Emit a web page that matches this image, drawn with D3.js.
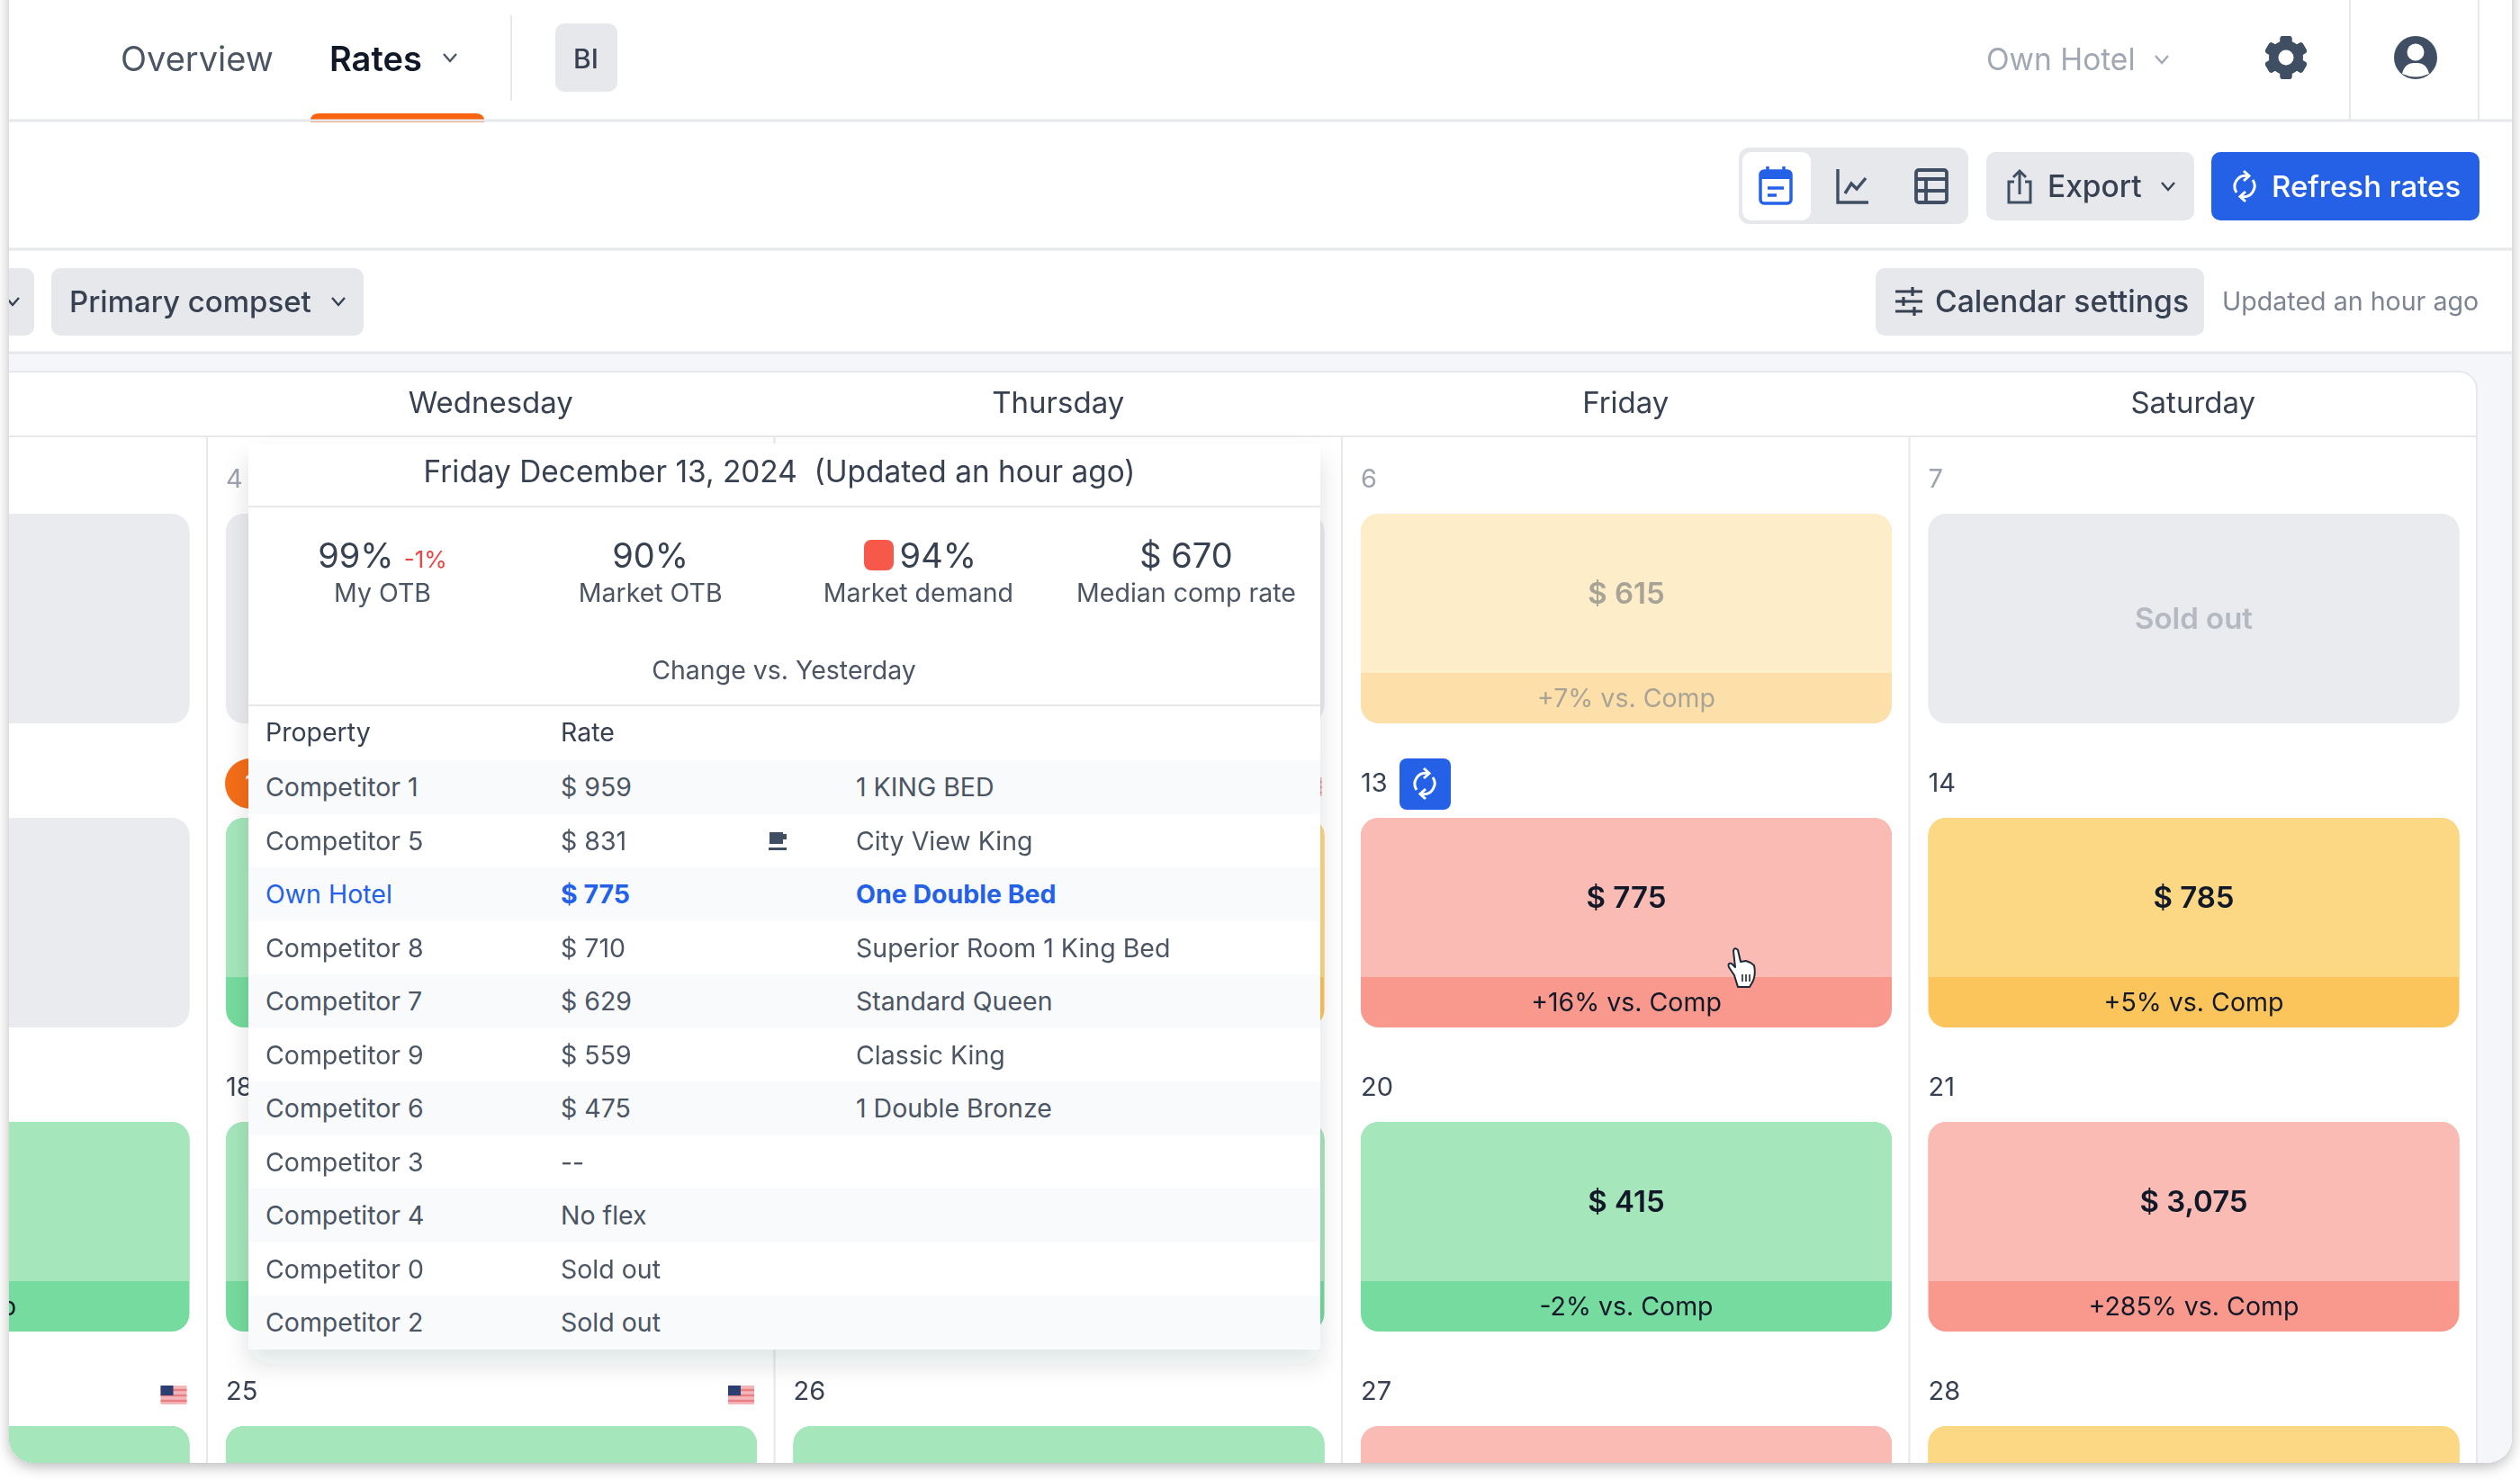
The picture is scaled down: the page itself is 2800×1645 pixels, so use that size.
<!DOCTYPE html>
<html>
<head>
<meta charset="utf-8">
<script src="https://cdn.jsdelivr.net/npm/d3@7"></script>
<style>
  html, body { margin: 0; padding: 0; background: #fff; }
  svg { display: block; filter: blur(0.6px); }
  text { font-family: Inter, "Noto Sans", sans-serif; }
</style>
</head>
<body>
<svg id="chart"></svg>
<script>
// calendar data
const weekdays = ['Tuesday', 'Wednesday', 'Thursday', 'Friday', 'Saturday'];
const weeks = [0, 1, 2, 3];
const dates = [
  [3, 4, 5, 6, 7],
  [10, 11, 12, 13, 14],
  [17, 18, 19, 20, 21],
  [24, 25, 26, 27, 28]
];
const statuses = [
  ['sold', 'sold', 'sold', 'faded', 'sold'],
  ['sold', 'green', 'yellow', 'red', 'yellow'],
  ['green', 'green', 'green', 'green', 'red'],
  ['green', 'green', 'green', 'red', 'yellow']
];
const rates = [
  [null, null, null, '$ 615', 'Sold out'],
  [null, null, null, '$ 775', '$ 785'],
  [null, null, null, '$ 415', '$ 3,075'],
  [null, null, null, null, null]
];
const compares = [
  [null, null, null, '+7% vs. Comp', null],
  [null, null, null, '+16% vs. Comp', '+5% vs. Comp'],
  ['-15% vs. Comp', null, null, '-2% vs. Comp', '+285% vs. Comp'],
  [null, null, null, null, null]
];
const flagDates = [12, 24, 25];

// popover data
const statLabels = ['My OTB', 'Market OTB', 'Market demand', 'Median comp rate'];
const statValues = ['99%', '90%', '94%', '$ 670'];
const properties = ['Competitor 1', 'Competitor 5', 'Own Hotel', 'Competitor 8', 'Competitor 7',
  'Competitor 9', 'Competitor 6', 'Competitor 3', 'Competitor 4', 'Competitor 0', 'Competitor 2'];
const propertyRates = ['$ 959', '$ 831', '$ 775', '$ 710', '$ 629', '$ 559', '$ 475', '--', 'No flex', 'Sold out', 'Sold out'];
const roomTypes = ['1 KING BED', 'City View King', 'One Double Bed', 'Superior Room 1 King Bed', 'Standard Queen',
  'Classic King', '1 Double Bronze', '', '', '', ''];

const palette = {
  green: { main: '#a6e6bb', strip: '#75db9e', text: '#111827' },
  red: { main: '#fbbbb5', strip: '#f9998d', text: '#111827' },
  yellow: { main: '#fcd885', strip: '#fcc55c', text: '#111827' },
  faded: { main: '#fdedc8', strip: '#fde0a9', text: '#a8a396' },
  sold: { main: '#e9ebef', strip: '#e9ebef', text: '#b3b8c1' }
};
const ink = '#111827', slate = '#4b5563', iconInk = '#3f4e62', chip = '#e6e8ec', line = '#e6e8ec', blue = '#2461e6';

const svg = d3.select('#chart').attr('width', 2800).attr('height', 1645);
const defs = svg.append('defs');

const appShadow = defs.append('filter').attr('id', 'appShadow')
  .attr('x', -0.02).attr('y', -0.02).attr('width', 1.04).attr('height', 1.04);
appShadow.append('feDropShadow').attr('dx', 0).attr('dy', 4).attr('stdDeviation', 8)
  .attr('flood-color', '#000').attr('flood-opacity', 0.28);
const popShadow = defs.append('filter').attr('id', 'popShadow')
  .attr('x', -0.05).attr('y', -0.05).attr('width', 1.1).attr('height', 1.12);
popShadow.append('feDropShadow').attr('dx', 0).attr('dy', 16).attr('stdDeviation', 14)
  .attr('flood-color', '#1f2937').attr('flood-opacity', 0.13);

defs.append('clipPath').attr('id', 'appClip')
  .append('rect').attr('x', 10).attr('y', -40).attr('width', 2781).attr('height', 1666).attr('rx', 28);

svg.append('rect').attr('x', 10).attr('y', -40).attr('width', 2781).attr('height', 1666).attr('rx', 28)
  .attr('fill', '#fff').attr('filter', 'url(#appShadow)');

const app = svg.append('g').attr('clip-path', 'url(#appClip)');

function label(g, x, y, text, o = {}) {
  return g.append('text')
    .attr('x', x).attr('y', y).attr('dy', '0.36em')
    .attr('text-anchor', o.anchor || 'start')
    .attr('font-size', o.size || 34)
    .attr('font-weight', o.weight || 400)
    .attr('fill', o.fill || ink)
    .text(text);
}
function chevron(g, x, y, color) {
  g.append('path').attr('d', `M${x - 7},${y - 4} L${x},${y + 4} L${x + 7},${y - 4}`)
    .attr('fill', 'none').attr('stroke', color).attr('stroke-width', 2.4);
}
function chipRect(g, x0, x1, y0, y1, fill = chip, rx = 10) {
  return g.append('rect').attr('x', x0).attr('y', y0).attr('width', x1 - x0).attr('height', y1 - y0)
    .attr('rx', rx).attr('fill', fill);
}
function refreshIcon(g, cx, cy, color) {
  const icon = g.append('g').attr('transform', `translate(${cx},${cy})`)
    .attr('fill', 'none').attr('stroke', color).attr('stroke-width', 3);
  icon.append('path').attr('d', 'M-9,7 A12,12 0 0 1 3,-11.5 M9,-7 A12,12 0 0 1 -3,11.5');
  icon.append('path').attr('d', 'M-1,-17 L5,-11.5 L-1,-6 M1,6 L-5,11.5 L1,17');
}

// ---- top nav ----
const nav = app.append('g');
label(nav, 134, 65, 'Overview', { size: 38, fill: slate });
label(nav, 366, 65, 'Rates', { size: 38, weight: 600 });
chevron(nav, 500, 64, slate);
nav.append('path').attr('d', 'M345,136 V134 Q345,126 355,126 H528 Q538,126 538,134 V136 Z').attr('fill', '#f9620f');
nav.append('line').attr('x1', 568).attr('x2', 568).attr('y1', 17).attr('y2', 112).attr('stroke', line).attr('stroke-width', 2);
chipRect(nav, 617, 686, 26, 102);
label(nav, 651, 65, 'BI', { size: 30, weight: 500, anchor: 'middle', fill: '#374151' });
label(nav, 2207, 66, 'Own Hotel', { size: 33.5, fill: '#a2a8b3' });
chevron(nav, 2402, 66, '#a2a8b3');
[2611, 2754].forEach(x => nav.append('line').attr('x1', x).attr('x2', x).attr('y1', 0).attr('y2', 134).attr('stroke', line).attr('stroke-width', 2));

// gear
const gear = nav.append('g').attr('transform', 'translate(2540,64)');
d3.range(6).forEach(i => gear.append('rect').attr('x', -6.5).attr('y', -24).attr('width', 13).attr('height', 48)
  .attr('rx', 3).attr('fill', iconInk).attr('transform', `rotate(${i * 60})`));
gear.append('circle').attr('r', 14).attr('fill', iconInk).attr('stroke', iconInk).attr('stroke-width', 10);
gear.append('circle').attr('r', 8.5).attr('fill', '#fff');
// user
const user = nav.append('g').attr('transform', 'translate(2684,64)');
user.append('circle').attr('r', 24).attr('fill', iconInk);
user.append('circle').attr('cy', -6).attr('r', 9.5).attr('fill', '#fff');
user.append('path').attr('d', 'M-15,18 Q-12,5 0,6 Q12,5 15,18 Q0,25 -15,18 Z').attr('fill', '#fff');

// dividers for the header bands
[134, 277].forEach(y => app.append('line').attr('x1', 0).attr('x2', 2800).attr('y1', y).attr('y2', y)
  .attr('stroke', line).attr('stroke-width', 3));

// ---- toolbar ----
const tools = app.append('g');
chipRect(tools, 1932, 2187, 164, 249, '#e6e8ec', 12);
chipRect(tools, 1936, 2012, 169, 245, '#fff', 10);
const cal = tools.append('g').attr('transform', 'translate(1973,207)');
cal.append('rect').attr('x', -17).attr('y', -17).attr('width', 34).attr('height', 36).attr('rx', 4)
  .attr('fill', '#fff').attr('stroke', blue).attr('stroke-width', 3.5);
cal.append('rect').attr('x', -17).attr('y', -17).attr('width', 34).attr('height', 9).attr('fill', blue);
cal.append('path').attr('d', 'M-9,-22 V-15 M9,-22 V-15 M-9,2 H9 M-9,10 H1').attr('stroke', blue).attr('stroke-width', 3.5);
const trend = tools.append('g').attr('transform', 'translate(2059,207)').attr('fill', 'none').attr('stroke', iconInk).attr('stroke-width', 3.4);
trend.append('path').attr('d', 'M-17,-19 V18 H17 M-9,8 L-2,-3 L4,3 L14,-9');
const table = tools.append('g').attr('transform', 'translate(2146,207)').attr('fill', 'none').attr('stroke', iconInk).attr('stroke-width', 3.8);
table.append('rect').attr('x', -17).attr('y', -18).attr('width', 34).attr('height', 36).attr('rx', 3);
table.append('path').attr('d', 'M-17,-8 H17 M-17,5 H17 M-6,-8 V18');

chipRect(tools, 2207, 2438, 169, 245);
const share = tools.append('g').attr('transform', 'translate(2244,208)').attr('fill', 'none').attr('stroke', iconInk).attr('stroke-width', 3);
share.append('path').attr('d', 'M-6,-6 H-12 V17 H12 V-6 H6 M0,8 V-18 M-7,-11 L0,-18 L7,-11');
label(tools, 2275, 207, 'Export', { size: 33.5, weight: 500, fill: '#374151' });
chevron(tools, 2409, 207, '#374151');

chipRect(tools, 2457, 2755, 169, 245, blue);
refreshIcon(tools, 2494, 207, '#fff');
label(tools, 2524, 207, 'Refresh rates', { size: 33, weight: 500, fill: '#fff' });

// ---- filters ----
const filters = app.append('g');
chipRect(filters, -20, 38, 298, 373);
chevron(filters, 14, 335, '#374151');
chipRect(filters, 57, 404, 298, 373);
label(filters, 77, 335, 'Primary compset', { size: 33, weight: 500, fill: '#374151' });
chevron(filters, 376, 335, '#374151');
chipRect(filters, 2084, 2449, 298, 373);
const sliders = filters.append('g').attr('transform', 'translate(2121,335)').attr('stroke', '#374151').attr('stroke-width', 3.2).attr('fill', 'none');
sliders.append('path').attr('d', 'M-15,-11 H15 M-15,0 H15 M-15,11 H15 M4,-16 V-6 M-6,-5 V5 M6,6 V16');
label(filters, 2150, 335, 'Calendar settings', { size: 33.7, weight: 500, fill: '#374151' });
label(filters, 2469, 335, 'Updated an hour ago', { size: 28.6, fill: '#7d8592' });

// ---- calendar ----
app.append('rect').attr('x', 0).attr('y', 392).attr('width', 2800).attr('height', 1300).attr('fill', '#f4f6f9');
app.append('line').attr('x1', 0).attr('x2', 2800).attr('y1', 392).attr('y2', 392).attr('stroke', line).attr('stroke-width', 3);

const x = d3.scaleBand().domain(weekdays).range([-400.5, 2752]);
const y = d3.scaleBand().domain(weeks).range([486, 1838]);
const tilePad = 21, tileTop = 85, tileHeight = 233, stripTop = 177;

const board = app.append('g');
board.append('rect').attr('x', -40).attr('y', 413).attr('width', 2792).attr('height', 1300).attr('rx', 20)
  .attr('fill', '#fff').attr('stroke', line).attr('stroke-width', 2);
board.append('line').attr('x1', 0).attr('x2', 2752).attr('y1', 485).attr('y2', 485).attr('stroke', line).attr('stroke-width', 2);
board.selectAll('line.col').data(weekdays.slice(1, 5)).enter().append('line').attr('class', 'col')
  .attr('x1', d => x(d)).attr('x2', d => x(d)).attr('y1', 485).attr('y2', 1700)
  .attr('stroke', line).attr('stroke-width', 2);

// only the weekdays that are inside the window get a heading
board.selectAll('text.day').data(weekdays.filter(d => x(d) + x.bandwidth() / 2 > 0)).enter().append('text').attr('class', 'day')
  .attr('x', d => x(d) + x.bandwidth() / 2).attr('y', 447).attr('dy', '0.36em')
  .attr('text-anchor', 'middle').attr('font-size', 33).attr('fill', '#374151').text(d => d);

const cells = weeks.flatMap(w => weekdays.map((d, i) => ({
  week: w, day: d, date: dates[w][i], status: statuses[w][i], rate: rates[w][i], compare: compares[w][i]
})));

function topRounded(x0, y0, w, h, r) {
  const p = d3.path();
  p.moveTo(x0, y0 + h);
  p.lineTo(x0, y0 + r);
  p.arcTo(x0, y0, x0 + r, y0, r);
  p.lineTo(x0 + w - r, y0);
  p.arcTo(x0 + w, y0, x0 + w, y0 + r, r);
  p.lineTo(x0 + w, y0 + h);
  p.closePath();
  return p.toString();
}

const cell = board.selectAll('g.cell').data(cells).enter().append('g').attr('class', 'cell')
  .attr('transform', d => `translate(${x(d.day)},${y(d.week)})`);

cell.filter(d => x(d.day) > 0 && d.date !== 11).append('text')
  .attr('x', tilePad).attr('y', 46).attr('dy', '0.36em').attr('font-size', 29)
  .attr('fill', d => (d.week === 0 ? '#9ca3af' : '#374151')).text(d => d.date);

cell.append('rect').attr('x', tilePad).attr('y', tileTop).attr('width', 590).attr('height', tileHeight).attr('rx', 20)
  .attr('fill', d => palette[d.status].strip);
cell.append('path').attr('d', d => topRounded(tilePad, tileTop, 590, d.status === 'sold' ? tileHeight - 20 : stripTop, 20))
  .attr('fill', d => palette[d.status].main);

cell.filter(d => d.rate).append('text')
  .attr('x', tilePad + 295).attr('y', d => tileTop + (d.status === 'sold' ? tileHeight / 2 : stripTop / 2)).attr('dy', '0.36em')
  .attr('text-anchor', 'middle').attr('font-size', 33).attr('font-weight', 600)
  .attr('fill', d => palette[d.status].text).text(d => d.rate);
cell.filter(d => d.compare).append('text')
  .attr('x', tilePad + 295).attr('y', tileTop + stripTop + 28).attr('dy', '0.36em')
  .attr('text-anchor', 'middle').attr('font-size', 28.5).attr('font-weight', 400)
  .attr('fill', d => palette[d.status].text).text(d => d.compare);

// holiday flags
const flag = cell.filter(d => flagDates.includes(d.date)).append('g').attr('transform', 'translate(593,50)');
flag.append('rect').attr('x', -14).attr('y', -10).attr('width', 29).attr('height', 21).attr('fill', '#f3b7ba');
flag.append('path').attr('d', 'M-14,-5 H15 M-14,1 H15 M-14,7 H15').attr('stroke', '#e77f85').attr('stroke-width', 2.6);
flag.append('rect').attr('x', -14).attr('y', -10).attr('width', 14).attr('height', 11).attr('fill', '#2c3f73');

// badges next to the date
const fri13 = cell.filter(d => d.date === 13);
fri13.append('rect').attr('x', 64).attr('y', 19).attr('width', 57).attr('height', 57).attr('rx', 8).attr('fill', blue);
refreshIcon(fri13, 92, 47, '#fff');
const wed11 = cell.filter(d => d.date === 11);
wed11.append('circle').attr('cx', 48).attr('cy', 47).attr('r', 28).attr('fill', '#f56d18');
wed11.append('text').attr('x', 54).attr('y', 47).attr('dy', '0.36em').attr('text-anchor', 'middle')
  .attr('font-size', 29).attr('font-weight', 500).attr('fill', '#fff').text(d => d.date);

// pointer cursor
const hand = board.append('g').attr('transform', 'translate(1934,1076)')
  .attr('fill', '#fff').attr('stroke', '#1f2937').attr('stroke-width', 2).attr('stroke-linejoin', 'round');
hand.append('path').attr('d', 'M-7,8 L-13,-1 Q-15,-6 -10,-5 L-6,-1 L-8,-19 Q-7,-24 -3,-20 L0,-7 L6,-8 L11,-6 L15,-3 Q17,6 14,14 L10,21 L-3,21 Z');
hand.append('path').attr('d', 'M2,7 V15 M6,7 V15 M10,7 V15').attr('stroke-width', 1.6);

// ---- popover ----
const pop = app.append('g');
pop.append('rect').attr('x', 276).attr('y', 493).attr('width', 1191).attr('height', 1007).attr('rx', 6)
  .attr('fill', '#fff').attr('filter', 'url(#popShadow)');
label(pop, 866, 524, 'Friday December 13, 2024  (Updated an hour ago)', { size: 33.4, anchor: 'middle', fill: '#374151' }).attr('xml:space', 'preserve');
const popLine = yy => pop.append('line').attr('x1', 276).attr('x2', 1467).attr('y1', yy).attr('y2', yy).attr('stroke', line).attr('stroke-width', 2);
popLine(563);

const stat = d3.scalePoint().domain(statLabels).range([425, 1318]);
pop.selectAll('text.statLabel').data(statLabels).enter().append('text').attr('class', 'statLabel')
  .attr('x', d => stat(d)).attr('y', 659).attr('dy', '0.36em').attr('text-anchor', 'middle')
  .attr('font-size', 28.5).attr('fill', slate).text(d => d);
pop.selectAll('text.statValue').data(statValues).enter().append('text').attr('class', 'statValue')
  .attr('x', (d, i) => stat(statLabels[i]) + (i === 2 ? 22 : 0)).attr('y', 617).attr('dy', '0.36em').attr('text-anchor', 'middle')
  .attr('font-size', 38).attr('fill', '#374151')
  .each(function (d, i) {
    d3.select(this).append('tspan').text(d);
    if (i === 0) d3.select(this).append('tspan').attr('dx', 11).attr('font-size', 26).attr('fill', '#ef4444').text('-1%');
  });
pop.append('rect').attr('x', 960).attr('y', 600).attr('width', 33).attr('height', 34).attr('rx', 8).attr('fill', '#f6594a');
label(pop, 871, 745, 'Change vs. Yesterday', { size: 28.5, anchor: 'middle', fill: slate });
popLine(784);
label(pop, 295, 814, 'Property', { size: 28.5, fill: '#374151' });
label(pop, 623, 814, 'Rate', { size: 28.5, fill: '#374151' });
popLine(847);

const rowY = d3.scaleBand().domain(properties).range([845, 1499.5]);
const row = pop.selectAll('g.row').data(properties).enter().append('g').attr('class', 'row')
  .attr('transform', d => `translate(0,${rowY(d)})`);
row.filter((d, i) => i % 2 === 0).append('rect').attr('x', 276).attr('width', 1191).attr('height', rowY.bandwidth()).attr('fill', '#f9fafb');
const rowColor = d => (d === 'Own Hotel' ? blue : slate);
const rowText = (xx, get, weight) => row.append('text').attr('x', xx).attr('y', rowY.bandwidth() / 2).attr('dy', '0.36em')
  .attr('font-size', 28.5).attr('fill', rowColor).attr('font-weight', d => (weight && d === 'Own Hotel' ? 700 : 400))
  .text((d, i) => get(i));
rowText(295, i => properties[i], false);
rowText(623, i => propertyRates[i], true);
rowText(951, i => roomTypes[i], true);

// breakfast icon on the Competitor 5 row
const cup = pop.append('g').attr('transform', 'translate(864,935)').attr('fill', iconInk);
cup.append('path').attr('d', 'M-9,-10 H6 V3 H-9 Z M6,-8 H10 V-2 H6 Z');
cup.append('rect').attr('x', -10).attr('y', 7).attr('width', 20).attr('height', 3);
</script>
</body>
</html>
